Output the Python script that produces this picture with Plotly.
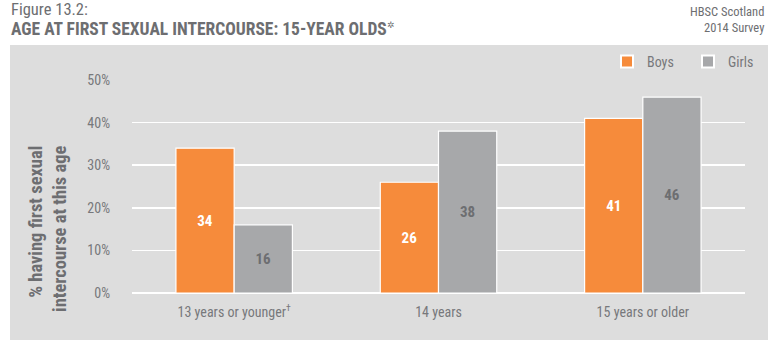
import plotly.graph_objects as go

categories = ["13 years or younger<sup>†</sup>", "14 years", "15 years or older"]
boys = [34, 26, 41]
girls = [16, 38, 46]
tick_vals = [0, 10, 20, 30, 40, 50]
tick_text = ["0%", "10%", "20%", "30%", "40%", "50%"]

FONT = "Roboto Condensed, Liberation Sans Narrow, Lato, sans-serif"
TXT = "#6D6E71"
TICK = "#77787B"
ORANGE = "#F68B3B"
GREY = "#A7A8AA"
PANEL = "#DDDDDD"

W, H = 768, 340
L, R, T, B = 132, 23, 80, 47
pw, ph = W - L - R, H - T - B

def px(x):
    return (x - L) / pw

def py(y):
    return (H - B - y) / ph

fig = go.Figure()
fig.add_trace(go.Bar(
    name="Boys", x=categories, y=boys, marker=dict(color=ORANGE, line=dict(color="white", width=1.2)),
    text=[str(v) for v in boys], textposition="inside", insidetextanchor="middle",
    textfont=dict(color="white", size=15, family=FONT, weight="bold"), textangle=0,
    hoverinfo="skip",
))
fig.add_trace(go.Bar(
    name="Girls", x=categories, y=girls, marker=dict(color=GREY, line=dict(color="white", width=1.2)),
    text=[str(v) for v in girls], textposition="inside", insidetextanchor="middle",
    textfont=dict(color=TXT, size=15, family=FONT, weight="bold"), textangle=0,
    hoverinfo="skip",
))

fig.update_layout(
    width=W, height=H,
    margin=dict(l=L, r=R, t=T, b=B, autoexpand=False),
    paper_bgcolor="white",
    plot_bgcolor="rgba(0,0,0,0)",
    barmode="group",
    bargap=0.43,
    bargroupgap=0,
    font=dict(family=FONT, color=TXT, size=13),
    showlegend=True,
    legend=dict(
        orientation="h", x=px(607), y=py(62), xanchor="left", yanchor="middle",
        bgcolor="rgba(0,0,0,0)", font=dict(size=14, color=TICK, family=FONT),
        entrywidth=36, entrywidthmode="pixels", itemsizing="constant",
        traceorder="normal",
    ),
    xaxis=dict(
        showgrid=False, showline=False, zeroline=False, ticks="",
        tickfont=dict(size=14, color=TICK, family=FONT), ticklabelstandoff=9,
    ),
    yaxis=dict(
        range=[0, 50], tickvals=tick_vals, ticktext=tick_text,
        showgrid=True, gridcolor="white", gridwidth=1.6,
        zeroline=True, zerolinecolor="white", zerolinewidth=1.6,
        showline=False, ticks="", ticklabelstandoff=21,
        tickfont=dict(size=14, color=TICK, family=FONT),
    ),
    shapes=[dict(
        type="rect", xref="paper", yref="paper", layer="below",
        x0=px(10), x1=px(770), y0=py(342), y1=py(45),
        fillcolor=PANEL, line=dict(width=0),
    )],
    annotations=[
        dict(text="Figure 13.2:", xref="paper", yref="paper", x=px(9), y=py(-2),
             xanchor="left", yanchor="top", showarrow=False,
             font=dict(size=16.5, color=TXT, family=FONT)),
        dict(text="<b>AGE AT FIRST SEXUAL INTERCOURSE: 15-YEAR OLDS</b><sup><span style='font-size:9px'>✲</span></sup>",
             xref="paper", yref="paper", x=px(9), y=py(17),
             xanchor="left", yanchor="top", showarrow=False,
             font=dict(size=17.5, color=TXT, family=FONT)),
        dict(text="HBSC Scotland<br>2014 Survey", xref="paper", yref="paper",
             x=px(766), y=py(2), xanchor="right", yanchor="top", align="right",
             showarrow=False, font=dict(size=12.5, color=TXT, family=FONT)),
        dict(text="<b>% having first sexual<br>intercourse at this age</b>",
             xref="paper", yref="paper", x=px(48), y=py(314),
             xanchor="center", yanchor="bottom", align="right", textangle=-90,
             showarrow=False, font=dict(size=18.5, color=TXT, family=FONT)),
    ],
)

post = ("document.body.style.margin='0';"
        "document.body.style.padding='0';"
        "document.documentElement.style.overflow='hidden';")

fig.write_html("out.html", post_script=post, config={"displayModeBar": False, "staticPlot": True})
